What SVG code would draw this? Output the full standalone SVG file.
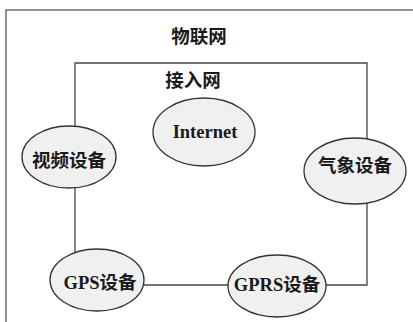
<svg xmlns="http://www.w3.org/2000/svg" width="413" height="322" viewBox="0 0 413 322">
<style>
.frame{fill:none;stroke:#555;stroke-width:1.3}
.conn{fill:none;stroke:#444;stroke-width:1.3}
.node{fill:#f0f0f0;stroke:#333;stroke-width:1.3}
.t{font-family:"Liberation Serif","Noto Sans CJK SC",serif;font-weight:bold;font-size:18.5px;fill:#1a1a1a;text-anchor:middle;dominant-baseline:central}
</style>
<rect width="413" height="322" fill="#fff"/>
<rect class="frame" x="6" y="10" width="460" height="400"/>
<text class="t" x="199" y="37">物联网</text>
<text class="t" x="193" y="81">接入网</text>
<g id="connectors">
<path class="conn" d="M75,157 V63 H367 V172"/>
<path class="conn" d="M75,157 V280"/>
<path class="conn" d="M97,285 H277"/>
<path class="conn" d="M277,285 H367 V172"/>
</g>
<g id="internet">
<ellipse class="node" cx="204" cy="132" rx="51" ry="34"/>
<text class="t" x="205" y="132">Internet</text>
</g>
<g id="video">
<ellipse class="node" cx="69" cy="157" rx="47" ry="31"/>
<text class="t" x="69" y="161">视频设备</text>
</g>
<g id="weather">
<ellipse class="node" cx="355" cy="171" rx="51" ry="33"/>
<text class="t" x="355" y="166">气象设备</text>
</g>
<g id="gps">
<ellipse class="node" cx="97" cy="280" rx="47" ry="31"/>
<text class="t" x="100" y="283">GPS设备</text>
</g>
<g id="gprs">
<ellipse class="node" cx="277" cy="286" rx="49" ry="31"/>
<text class="t" x="277" y="285">GPRS设备</text>
</g>
</svg>
